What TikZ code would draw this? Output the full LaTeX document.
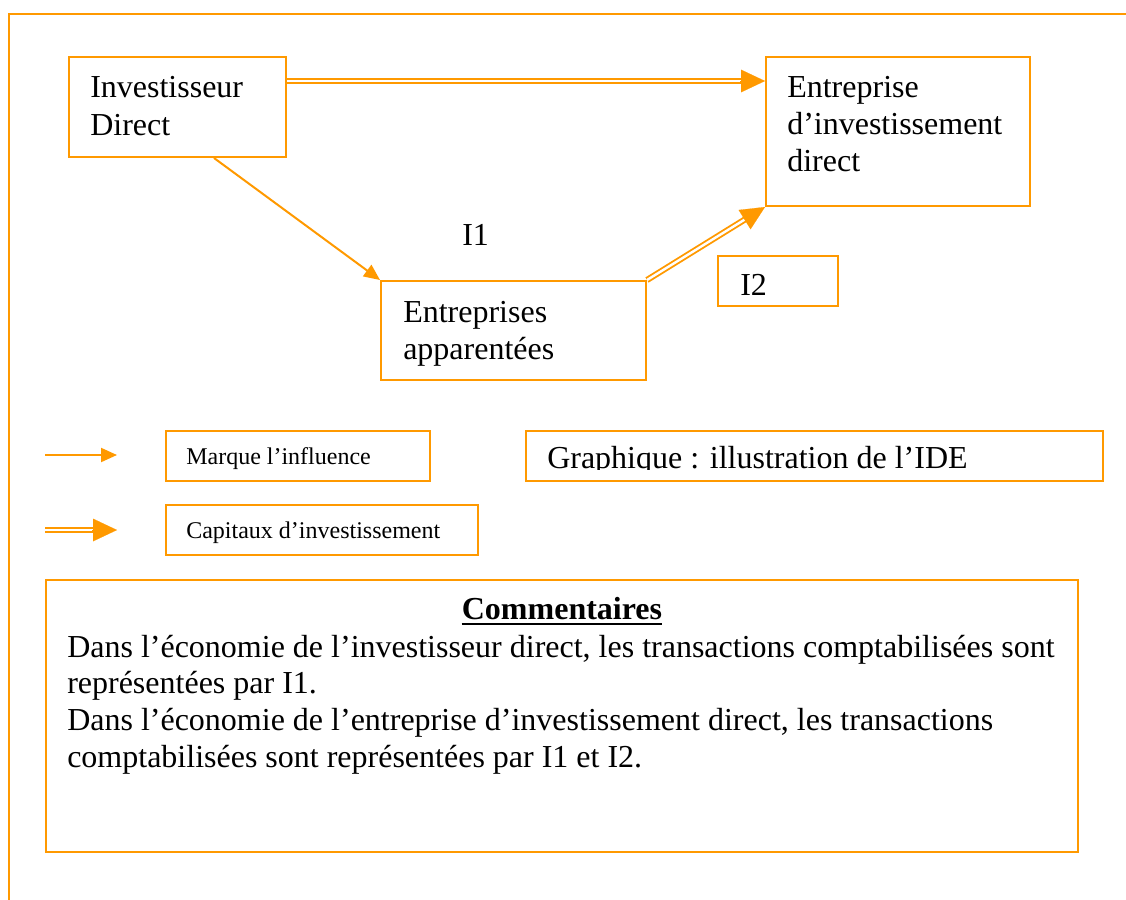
\documentclass[tikz,border=0pt]{standalone}
\usepackage{fontspec}
\setmainfont{Liberation Serif}
\usetikzlibrary{arrows.meta,calc,fit}
\definecolor{org}{RGB}{255,153,0}
\tikzset{
  box/.style={draw=org, line width=1.5pt, inner sep=0pt},
  txt/.style={anchor=base west, inner sep=0pt, font=\fontsize{24}{27.6}\selectfont},
  smalltxt/.style={anchor=base west, inner sep=0pt, font=\fontsize{18}{20.7}\selectfont},
  infl/.style={draw=org, line width=1.5pt, -{Triangle[length=12pt,width=10.5pt]}},
  capline/.style={draw=org, line width=1.4pt, double=white, double distance=1.8pt},
  caphead/.style={draw=org, fill=org, line width=0.1pt, -{Triangle[length=18pt,width=17pt]}}
}
\begin{document}
\begin{tikzpicture}[x=0.75pt,y=-0.75pt]
\useasboundingbox (0,0) rectangle (1126,899);
% outer frame
\draw[org, line width=1.5pt] (1130,14) -- (9,14) -- (9,905);

% boxes
\node[box, fit={(69,57) (286,157)}] (inv) {};
\node[box, fit={(766,57) (1030,206)}] (ent) {};
\node[box, fit={(381,281) (646,380)}] (app) {};
\node[box, fit={(718,256) (838,306)}] (i2box) {};
\node[box, fit={(166,431) (430,481)}] (lg1) {};
\node[box, fit={(166,505) (478,555)}] (lg2) {};
\node[box, fit={(526,431) (1103,481)}] (graph) {};
\node[box, fit={(46,580) (1078,852)}] (comm) {};

% texts
\node[txt] (inv1) at (90,97) {Investisseur};
\node[txt] (inv2) at (90,135) {Direct};
\node[txt] (ent1) at (787,97) {Entreprise};
\node[txt] (ent2) at (787,134) {d’investissement};
\node[txt] (ent3) at (787,171) {direct};
\node[txt] (app1) at (403,322) {Entreprises};
\node[txt] (app2) at (403,359) {apparentées};
\node[txt] (i1) at (462,245) {I1};
\node[txt] (i2) at (740,295) {I2};
\node[smalltxt] (lg1t) at (186,464) {Marque l’influence};
\node[smalltxt] (lg2t) at (186,538) {Capitaux d’investissement};
\begin{scope}
\clip (526,431) rectangle (1103,469);
\node[txt] (gtxt) at (547,468) {Graphique : illustration de l’IDE};
\end{scope}
\node[txt, anchor=base, font={\fontsize{24}{27.6}\selectfont\bfseries}] (ctitle) at (562,619) {Commentaires};
\draw[line width=1.5pt] ($(ctitle.base west)+(0,5)$) -- ($(ctitle.base east)+(0,5)$);
\node[txt] (c1) at (67,657) {Dans l’économie de l’investisseur direct, les transactions comptabilisées sont};
\node[txt] (c2) at (67,693) {représentées par I1.};
\node[txt] (c3) at (67,730) {Dans l’économie de l’entreprise d’investissement direct, les transactions};
\node[txt] (c4) at (67,767) {comptabilisées sont représentées par I1 et I2.};

% connectors
\coordinate (capA) at ($(inv.north east)+(0,25)$);
\coordinate (capB) at ($(ent.north west)+(0,25)$);
\draw[capline, shorten >=16pt] (capA) -- (capB);
\draw[caphead] ($(capB)!18.5pt!(capA)$) -- (capB);

\draw[infl] ($(inv.south west)+(146,0)$) -- (app.north west);

\draw[capline, shorten >=16pt] (app.north east) -- (ent.south west);
\draw[caphead] ($(ent.south west)!18.5pt!(app.north east)$) -- (ent.south west);

% legend arrows
\coordinate (l1s) at (45,455);
\coordinate (l1e) at (117,455);
\draw[infl] (l1s) -- (l1e);
\coordinate (l2s) at (45,530);
\coordinate (l2e) at (117,530);
\draw[capline, shorten >=16pt] (l2s) -- (l2e);
\draw[caphead] ($(l2e)!18.5pt!(l2s)$) -- (l2e);
\end{tikzpicture}
\end{document}
